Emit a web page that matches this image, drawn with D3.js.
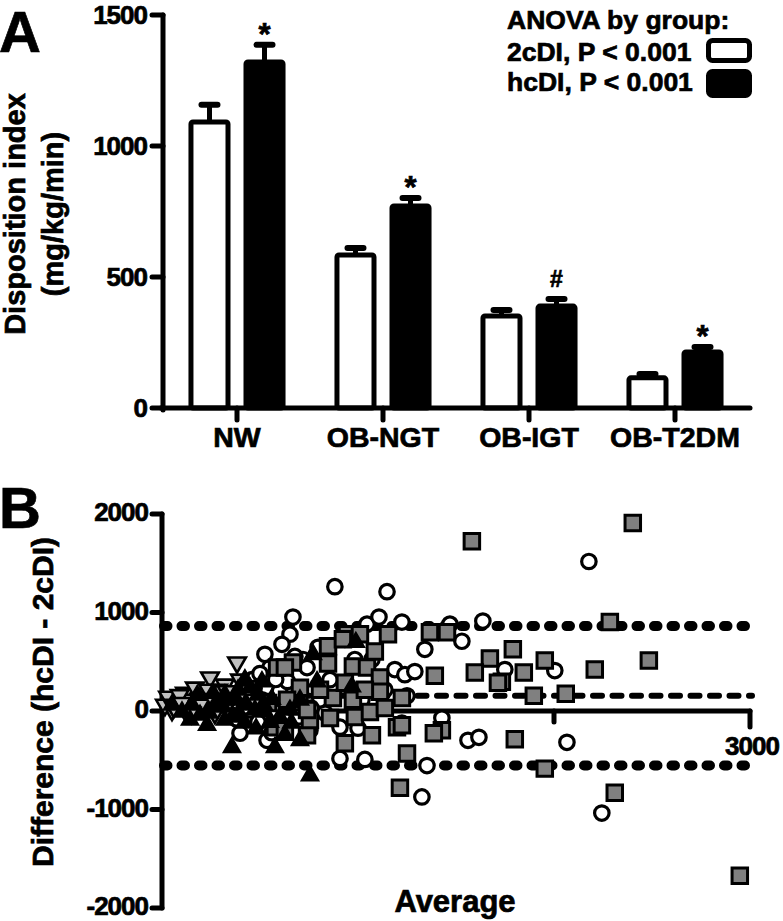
<!DOCTYPE html>
<html><head><meta charset="utf-8">
<script src="https://cdnjs.cloudflare.com/ajax/libs/d3/7.8.5/d3.min.js"></script>
<style>
html,body{margin:0;padding:0;background:#fff;}
svg text{font-family:"Liberation Sans",Arial,sans-serif;font-weight:bold;fill:#000;stroke:#000;stroke-width:0.7px;}
</style></head>
<body><svg id="c" width="783" height="921"></svg>
<script>
// ---------- Panel A data ----------
const categories = ["NW", "OB-NGT", "OB-IGT", "OB-T2DM"];
const series = ["2cDI", "hcDI"];
const di2c = [1092, 584, 351, 115];
const di2cSem = [65, 27, 23, 15];
const dihc = [1321, 771, 389, 214];
const dihcSem = [65, 31, 27, 19];
const sigMarks = ["*", "*", "#", "*"];
const yTicksA = [0, 500, 1000, 1500];
const legendTitle = "ANOVA by group:";
const legendLabels = ["2cDI, P < 0.001", "hcDI, P < 0.001"];

// ---------- Panel B data ([average, difference]) ----------
const circles = [[882,1262],[1148,1211],[668,954],[653,780],[1046,882],[1107,954],[1224,903],[1469,882],[1637,913],[1341,626],[1530,708],[1749,421],[2004,410],[1188,421],[1239,369],[1290,400],[1250,154],[1428,-72],[1561,-298],[1617,-267],[2066,-318],[908,-482],[1035,-492],[1352,-554],[1326,-872],[2244,-1036],[2178,1518],[831,-21],[908,-164],[1000,-174],[1224,-123],[536,-298],[398,-226],[719,523],[678,554],[459,318],[551,441],[740,441],[510,113],[576,-10],[627,-92],[449,10],[423,195],[490,-113],[796,646],[857,318],[984,523],[1071,523],[1137,215],[1020,113],[806,113],[755,-195],[933,728],[612,677],[525,575],[704,113],[357,-41],[337,113],[420,40],[470,230],[380,-80],[600,200],[640,300],[560,-220],[700,-60],[760,30],[500,380],[580,320]];
const squares = [[2402,1908],[1581,1724],[2285,903],[1790,626],[1953,513],[1846,390],[1734,298],[2208,421],[2484,513],[1897,154],[2060,174],[2310,-831],[2948,-1672],[1428,-195],[1387,-226],[1800,-287],[1250,-431],[1953,-585],[1214,-780],[933,-328],[740,-246],[755,-92],[984,-62],[1061,-10],[1137,31],[1199,-164],[1367,800],[1454,800],[1673,533],[1596,390],[1392,359],[1714,287],[1224,133],[1224,-144],[1153,780],[944,780],[1010,780],[1086,605],[847,657],[847,482],[668,492],[974,451],[1046,441],[1112,339],[704,236],[872,133],[933,287],[1112,195],[974,113],[638,113],[740,10],[587,441],[541,82],[576,-164],[923,728],[627,441],[627,-195],[806,215],[1035,215],[857,-72],[1071,-246]];
const downTriangles = [[383,492],[245,339],[321,267],[77,92],[219,144],[117,10],[184,31],[270,-21],[286,215],[51,10],[117,185],[31,144],[347,113],[423,164],[168,236],[15,62],[143,113],[398,318],[235,215],[474,113],[60,40],[90,160],[200,80],[260,120],[330,200],[150,-20],[100,80]];
const upTriangles = [[755,-657],[357,-369],[576,-369],[230,-144],[989,698],[770,575],[791,298],[969,246],[653,10],[51,62],[372,113],[423,62],[490,164],[449,236],[398,-41],[321,-92],[270,62],[194,-41],[143,-92],[102,-10],[525,-10],[551,-113],[704,-298],[627,-246],[423,318],[321,164],[704,113],[510,298],[153,62],[306,113],[388,215],[474,10],[240,-20],[300,40],[180,160],[360,-60],[560,120],[600,-60],[480,-180],[660,-120],[420,-120],[260,180],[520,60]];
const meanDiff = 154;
const upperLoA = 862;
const lowerLoA = -554;
const yTicksB = [-2000, -1000, 0, 1000, 2000];
const xTicksB = [1000, 2000, 3000];
const xTickLabelsB = {3000: "3000"};

const svg = d3.select("#c");
svg.append("rect").attr("width",783).attr("height",921).attr("fill","#fff");

// ================= Panel A =================
const gA = svg.append("g");
const yA = d3.scaleLinear().domain([0,1500]).range([408,15]);
const xA = d3.scaleBand().domain(categories).range([164,748]);
const xSub = d3.scaleBand().domain(series).range([0, xA.bandwidth()]).paddingInner(0.327).paddingOuter(0.49);

const barData = [];
categories.forEach((c,i)=>{
  barData.push({c, s:"2cDI", v:di2c[i], e:di2cSem[i], fill:"#fff", mark:null});
  barData.push({c, s:"hcDI", v:dihc[i], e:dihcSem[i], fill:"#000", mark:sigMarks[i]});
});
const bars = gA.selectAll("g.bar").data(barData).enter().append("g");
bars.append("line")
  .attr("x1", d=>xA(d.c)+xSub(d.s)+xSub.bandwidth()/2)
  .attr("x2", d=>xA(d.c)+xSub(d.s)+xSub.bandwidth()/2)
  .attr("y1", d=>yA(d.v)).attr("y2", d=>yA(d.v+d.e))
  .attr("stroke","#000").attr("stroke-width",5);
bars.append("line")
  .attr("x1", d=>xA(d.c)+xSub(d.s)+xSub.bandwidth()/2-8)
  .attr("x2", d=>xA(d.c)+xSub(d.s)+xSub.bandwidth()/2+8)
  .attr("y1", d=>yA(d.v+d.e)).attr("y2", d=>yA(d.v+d.e))
  .attr("stroke","#000").attr("stroke-width",6).attr("stroke-linecap","round");
bars.append("rect")
  .attr("x", d=>xA(d.c)+xSub(d.s))
  .attr("width", xSub.bandwidth())
  .attr("y", d=>yA(d.v))
  .attr("height", d=>yA(0)-yA(d.v))
  .attr("fill", d=>d.fill).attr("stroke","#000").attr("stroke-width",5)
  .attr("rx",2);
bars.filter(d=>d.mark).append("text")
  .attr("x", d=>xA(d.c)+xSub(d.s)+xSub.bandwidth()/2)
  .attr("y", d=>yA(d.v+d.e) - (d.mark==="#" ? 12 : 0))
  .attr("text-anchor","middle")
  .attr("font-size", d=>d.mark==="#" ? 23 : 31)
  .text(d=>d.mark);

// axes A
gA.append("line").attr("x1",163).attr("x2",163).attr("y1",yA(1500)).attr("y2",yA(0)+2)
  .attr("stroke","#000").attr("stroke-width",5).attr("stroke-linecap","round");
gA.append("line").attr("x1",161).attr("x2",750).attr("y1",yA(0)).attr("y2",yA(0))
  .attr("stroke","#000").attr("stroke-width",5).attr("stroke-linecap","round");
gA.selectAll("line.ty").data(yTicksA).enter().append("line")
  .attr("x1",152).attr("x2",163).attr("y1",d=>yA(d)).attr("y2",d=>yA(d))
  .attr("stroke","#000").attr("stroke-width",5).attr("stroke-linecap","round");
gA.selectAll("text.ty").data(yTicksA).enter().append("text")
  .attr("x",147).attr("y",d=>yA(d)+9).attr("text-anchor","end").attr("font-size",26)
  .attr("letter-spacing",-1)
  .text(d=>d);
gA.selectAll("line.tx").data(categories).enter().append("line")
  .attr("x1",d=>xA(d)+xA.bandwidth()/2).attr("x2",d=>xA(d)+xA.bandwidth()/2)
  .attr("y1",yA(0)).attr("y2",yA(0)+12)
  .attr("stroke","#000").attr("stroke-width",5).attr("stroke-linecap","round");
gA.selectAll("text.tx").data(categories).enter().append("text")
  .attr("x",d=>xA(d)+xA.bandwidth()/2).attr("y",447).attr("text-anchor","middle")
  .attr("font-size",28.5).text(d=>d);
gA.append("text").attr("transform","translate(25,214) rotate(-90)")
  .attr("text-anchor","middle").attr("font-size",29).text("Disposition index");
gA.append("text").attr("transform","translate(63,214) rotate(-90)")
  .attr("text-anchor","middle").attr("font-size",29).text("(mg/kg/min)");
gA.append("text").attr("x",-1).attr("y",52).attr("font-size",58).text("A");

// legend
gA.append("text").attr("x",507).attr("y",29).attr("font-size",26.5).text(legendTitle);
legendLabels.forEach((l,i)=>{
  gA.append("text").attr("x",507).attr("y",61+i*30).attr("font-size",26.5).text(l);
  gA.append("rect").attr("x",708.5).attr("y",40.5+i*31).attr("width",41).attr("height",i?24:20)
    .attr("rx",4).attr("fill",i?"#000":"#fff").attr("stroke","#000").attr("stroke-width",5);
});

// ================= Panel B =================
const gB = svg.append("g");
const xB = d3.scaleLinear().domain([0,3000]).range([162,750]);
const yB = d3.scaleLinear().domain([-2000,2000]).range([908,514]);

gB.append("text").attr("x",-1).attr("y",528).attr("font-size",58).text("B");

[[upperLoA,"dot"],[lowerLoA,"dot"],[meanDiff,"dash"]].forEach(([v,t])=>{
  gB.append("line").attr("x1",xB(0)+2).attr("x2",xB(3000)+2).attr("y1",yB(v)).attr("y2",yB(v))
    .attr("stroke","#000").attr("stroke-linecap","round")
    .attr("stroke-width", t==="dot"?10:6)
    .attr("stroke-dasharray", t==="dot"?"3.5,14":"9,10.5");
});

gB.append("line").attr("x1",xB(0)).attr("x2",xB(3000)).attr("y1",yB(0)).attr("y2",yB(0))
  .attr("stroke","#000").attr("stroke-width",5).attr("stroke-linecap","round");
gB.selectAll("line.tx").data(xTicksB).enter().append("line")
  .attr("x1",d=>xB(d)).attr("x2",d=>xB(d)).attr("y1",yB(0)).attr("y2",d=>yB(0)+(d===3000?16:11))
  .attr("stroke","#000").attr("stroke-width",5).attr("stroke-linecap","round");
gB.selectAll("text.tx").data(xTicksB.filter(d=>xTickLabelsB[d])).enter().append("text")
  .attr("x",d=>xB(d)+2).attr("y",755).attr("text-anchor","middle").attr("font-size",26)
  .attr("letter-spacing",-1).text(d=>xTickLabelsB[d]);

gB.append("line").attr("x1",162).attr("x2",162).attr("y1",yB(2000)).attr("y2",yB(-2000))
  .attr("stroke","#000").attr("stroke-width",5).attr("stroke-linecap","round");
gB.selectAll("line.ty").data(yTicksB).enter().append("line")
  .attr("x1",152).attr("x2",162).attr("y1",d=>yB(d)).attr("y2",d=>yB(d))
  .attr("stroke","#000").attr("stroke-width",5).attr("stroke-linecap","round");
gB.selectAll("text.ty").data(yTicksB).enter().append("text")
  .attr("x",148).attr("y",d=>yB(d)+7).attr("text-anchor","end").attr("font-size",26)
  .attr("letter-spacing",-1).text(d=>d);
gB.append("text").attr("transform","translate(53,702) rotate(-90)")
  .attr("text-anchor","middle").attr("font-size",30).text("Difference (hcDI - 2cDI)");
gB.append("text").attr("x",455).attr("y",912).attr("text-anchor","middle")
  .attr("font-size",31).text("Average");

function drawPts(data, type, size, fill, rot, sw){
  gB.append("g").selectAll("path").data(data).enter().append("path")
    .attr("d", d3.symbol().type(type).size(size))
    .attr("transform", d=>`translate(${xB(d[0])},${yB(d[1])}) rotate(${rot})`)
    .attr("fill", fill).attr("stroke","#000").attr("stroke-width",sw);
}
drawPts(circles, d3.symbolCircle, 165, "#fff", 0, 3.2);
drawPts(squares, d3.symbolSquare, 240, "#808080", 0, 3);
drawPts(downTriangles, d3.symbolTriangle, 135, "#c0c0c0", 180, 2.6);
drawPts(upTriangles, d3.symbolTriangle, 120, "#000", 0, 2);
</script></body></html>
